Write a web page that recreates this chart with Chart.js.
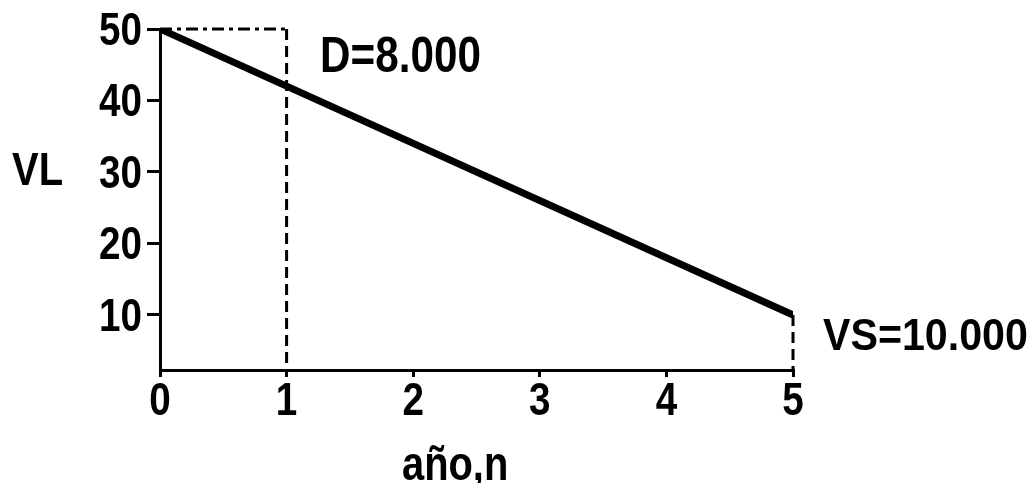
<!DOCTYPE html>
<html><head><meta charset="utf-8">
<script src="https://cdn.jsdelivr.net/npm/chart.js@4/dist/chart.umd.min.js"></script>
<style>html,body{margin:0;padding:0;background:#fff;overflow:hidden}</style>
</head><body>
<canvas id="c" width="1035" height="483"></canvas>
<script>
// ---- data ----
const years = [0, 5];
const bookValues = [50, 10];
const xTickValues = [0, 1, 2, 3, 4, 5];
const yTickValues = [10, 20, 30, 40, 50];
const yMin = 2.3, yMax = 50;
const topGuideYears = [0, 1];
const topGuideValues = [50, 50];
const yearOneGuideYears = [1, 1];
const yearOneGuideValues = [50, yMin];
const salvageYears = [5, 5];
const salvageValues = [10, yMin];
const depLabel = 'D=8.000';
const salvageLabel = 'VS=10.000';
const xTitle = 'año,n';
const yTitle = 'VL';

const FAMILY = "'Liberation Sans', Arial, sans-serif";
const toPts = (xs, ys) => xs.map((x, i) => ({x, y: ys[i]}));

function narrowText(ctx, str, x, y, size, align, sx) {
  ctx.save();
  ctx.font = 'bold ' + size + 'px ' + FAMILY;
  ctx.fillStyle = '#000';
  ctx.textBaseline = 'alphabetic';
  ctx.textAlign = align || 'left';
  ctx.translate(x, y);
  ctx.scale(sx || 0.82, 1);
  ctx.fillText(str, 0, 0);
  ctx.restore();
}

const textPlugin = {
  id: 'texts',
  afterDraw(chart) {
    const ctx = chart.ctx;
    const xs = chart.scales.x, ys = chart.scales.y;
    yTickValues.forEach(v => {
      narrowText(ctx, String(v), 142, ys.getPixelForValue(v) + 16, 46, 'right', 0.84);
    });
    xTickValues.forEach(v => {
      narrowText(ctx, String(v), xs.getPixelForValue(v), 415, 46, 'center', 0.84);
    });
    narrowText(ctx, depLabel, 320, 72, 50, 'left', 0.845);
    narrowText(ctx, salvageLabel, 823, 350, 45, 'left', 0.915);
    narrowText(ctx, yTitle, 12, 185, 47, 'left', 0.85);
    narrowText(ctx, xTitle, 402, 480, 48, 'left', 0.83);
  }
};

new Chart(document.getElementById('c'), {
  type: 'line',
  data: {
    datasets: [
      { data: toPts(years, bookValues), borderColor: '#000', borderWidth: 7, pointRadius: 0, fill: false, tension: 0 },
      { data: toPts(topGuideYears, topGuideValues), borderColor: '#000', borderWidth: 3, borderDash: [12, 5, 4, 5], pointRadius: 0, fill: false, clip: false },
      { data: toPts(yearOneGuideYears, yearOneGuideValues), borderColor: '#000', borderWidth: 3, borderDash: [11, 6], pointRadius: 0, fill: false, clip: false },
      { data: toPts(salvageYears, salvageValues), borderColor: '#000', borderWidth: 3, borderDash: [11, 6], pointRadius: 0, fill: false, clip: false }
    ]
  },
  options: {
    responsive: false,
    animation: false,
    devicePixelRatio: 1,
    layout: { padding: { left: 0, right: 242, top: 29, bottom: 0 } },
    plugins: { legend: { display: false }, tooltip: { enabled: false } },
    scales: {
      x: {
        type: 'linear', min: 0, max: 5,
        afterBuildTicks: s => { s.ticks = xTickValues.map(v => ({value: v})); },
        afterFit: s => { s.height = 113; },
        border: { display: true, color: '#000', width: 3 },
        grid: { drawOnChartArea: false, drawTicks: true, tickLength: 7, color: '#000', lineWidth: 3 },
        ticks: { display: false }
      },
      y: {
        type: 'linear', min: yMin, max: yMax,
        afterBuildTicks: s => { s.ticks = yTickValues.map(v => ({value: v})); },
        afterFit: s => { s.width = 160; },
        border: { display: true, color: '#000', width: 3 },
        grid: { drawOnChartArea: false, drawTicks: true, tickLength: 13, color: '#000', lineWidth: 3 },
        ticks: { display: false }
      }
    }
  },
  plugins: [textPlugin]
});
</script>
</body></html>
